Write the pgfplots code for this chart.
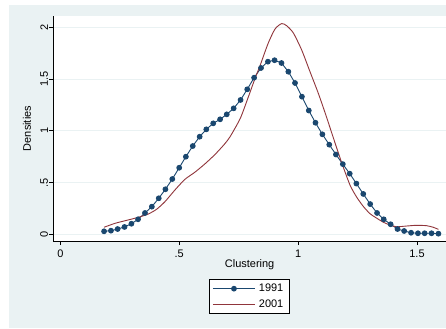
\documentclass[border=0pt]{standalone}
\usepackage{fontspec}
\setmainfont{Liberation Sans}
\usepackage{pgfplots}
\pgfplotsset{compat=1.18}
\definecolor{bgc}{RGB}{234,242,243}
\definecolor{navyc}{RGB}{26,71,111}
\definecolor{maroonc}{RGB}{144,53,59}
\begin{document}
\begin{tikzpicture}
\fill[white] (0,0) rectangle (446bp,329bp);
\fill[bgc] (9bp,1bp) rectangle (446bp,324bp);
\path[use as bounding box] (0,0) rectangle (446bp,329bp);
\begin{axis}[
  at={(53.3bp,88bp)}, anchor=south west,
  scale only axis, width=392.7bp, height=225bp,
  xmin=-0.02944, xmax=1.6219, ymin=-0.0647, ymax=2.1092,
  axis background/.style={fill=white},
  axis x line*=bottom, axis y line*=left,
  axis line style={line width=1bp, black},
  every axis plot/.append style={line width=0.9bp},
  tick align=outside, major tick length=4bp,
  tick style={line width=0.9bp, black},
  xtick={0,0.5,1,1.5}, xticklabels={0,.5,1,1.5},
  ytick={0,0.5,1,1.5,2}, yticklabels={0,.5,1,1.5,2},
  /pgf/number format/assume math mode=true,
  font=\fontsize{11}{13}\selectfont,
  yticklabel style={rotate=90, anchor=south, inner ysep=1bp},
  xticklabel style={yshift=-1bp},
  ymajorgrids, grid style={bgc, line width=1bp},
  xlabel={Clustering}, ylabel={Densities},
  x label style={at={(axis description cs:0.5,-0.1067)}, anchor=center},
  y label style={at={(axis description cs:-0.067,0.5)}, anchor=center, rotate=0},
  legend style={at={(0.5,-0.2467)}, anchor=center, draw=black, line width=0.8bp, fill=white,
    font=\fontsize{11}{13}\selectfont, legend cell align=left,
    inner xsep=3bp, inner ysep=2.5bp, row sep=2.5bp,
    nodes={inner xsep=3.5bp, inner ysep=2bp}},
  legend image code/.code={\draw[mark repeat=2,mark phase=2] plot coordinates {(0bp,0bp)(21bp,0bp)(42bp,0bp)};},
]
\addplot[navyc, mark=*, mark size=2.4bp, mark options={fill=navyc, draw=navyc}] coordinates {
(0.184,0.029)(0.213,0.035)(0.241,0.051)(0.270,0.071)(0.299,0.102)(0.327,0.145)(0.356,0.206)(0.385,0.267)(0.414,0.348)(0.442,0.435)
(0.471,0.534)(0.500,0.643)(0.528,0.750)(0.557,0.853)(0.586,0.943)(0.614,1.014)(0.643,1.072)(0.672,1.111)(0.700,1.159)(0.729,1.217)
(0.758,1.298)(0.786,1.401)(0.815,1.513)(0.844,1.607)(0.873,1.668)(0.901,1.682)(0.930,1.655)(0.959,1.571)(0.987,1.462)(1.016,1.330)
(1.045,1.196)(1.073,1.078)(1.102,0.966)(1.131,0.866)(1.159,0.771)(1.188,0.678)(1.217,0.586)(1.245,0.490)(1.274,0.390)(1.303,0.292)
(1.332,0.206)(1.360,0.145)(1.389,0.097)(1.418,0.051)(1.446,0.032)(1.475,0.015)(1.504,0.010)(1.532,0.010)(1.561,0.010)(1.590,0.006)
};
\addlegendentry{1991}
\addplot[maroonc, smooth, tension=0.4] coordinates {
(0.184,0.068)(0.230,0.106)(0.279,0.135)(0.328,0.164)(0.370,0.196)(0.405,0.242)(0.440,0.315)(0.482,0.428)(0.524,0.531)
(0.566,0.600)(0.608,0.680)(0.650,0.770)(0.690,0.870)(0.714,0.943)(0.757,1.121)(0.791,1.329)(0.819,1.507)(0.840,1.630)
(0.874,1.845)(0.903,1.984)(0.931,2.036)(0.952,2.015)(0.980,1.945)(1.015,1.781)(1.050,1.571)(1.085,1.362)(1.119,1.136)
(1.147,0.940)(1.182,0.700)(1.218,0.477)(1.246,0.360)(1.274,0.270)(1.302,0.200)(1.331,0.155)(1.359,0.116)(1.386,0.090)
(1.414,0.073)(1.456,0.080)(1.498,0.087)(1.541,0.083)(1.568,0.068)(1.590,0.048)
};
\addlegendentry{2001}
\end{axis}
\end{tikzpicture}
\end{document}
